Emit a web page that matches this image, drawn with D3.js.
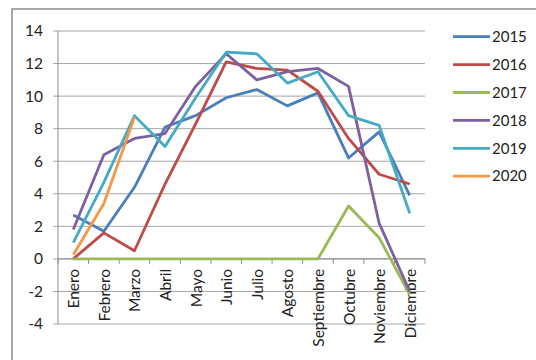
<!DOCTYPE html>
<html>
<head>
<meta charset="utf-8">
<script src="https://cdn.jsdelivr.net/npm/d3@7"></script>
<style>
  body { margin: 0; background: #fff; }
  text { font-family: Lato, "Open Sans", sans-serif; fill: #222; }
</style>
</head>
<body>
<svg id="chart"></svg>
<script>
//////////////// Daten ////////////////////
const meses = ["Enero", "Febrero", "Marzo", "Abril", "Mayo", "Junio", "Julio",
  "Agosto", "Septiembre", "Octubre", "Noviembre", "Diciembre"];

const anios = ["2015", "2016", "2017", "2018", "2019", "2020"];
const colores = ["#4a7ebb", "#be4b48", "#98b954", "#7d60a0", "#46aac5", "#f79646"];

const v2015 = [2.7, 1.7, 4.4, 8.1, 8.8, 9.9, 10.4, 9.4, 10.2, 6.2, 7.8, 3.9];
const v2016 = [0.0, 1.6, 0.5, 4.6, 8.3, 12.1, 11.7, 11.6, 10.3, 7.4, 5.2, 4.6];
const v2017 = [0, 0, 0, 0, 0, 0, 0, 0, 0, 3.25, 1.3, -2.2];
const v2018 = [1.8, 6.4, 7.4, 7.7, 10.6, 12.6, 11.0, 11.5, 11.7, 10.6, 2.2, -2.0];
const v2019 = [1.0, 4.7, 8.8, 6.9, 9.9, 12.7, 12.6, 10.8, 11.5, 8.8, 8.2, 2.8];
const v2020 = [0.25, 3.4, 8.7];

const valores = [v2015, v2016, v2017, v2018, v2019, v2020];
const yTicks = [-4, -2, 0, 2, 4, 6, 8, 10, 12, 14];

//////////////// Konstanten ////////////////////
const W = 536, H = 360;
const plot = {left: 58, right: 425, top: 31, bottom: 324};

const svg = d3.select("#chart").attr("width", W).attr("height", H);

// Rahmen
svg.append("rect")
  .attr("x", 12).attr("y", 9)
  .attr("width", 600).attr("height", 400)
  .attr("fill", "none")
  .attr("stroke", "#8c8c8c")
  .attr("stroke-width", 1.5);

const x = d3.scaleBand().domain(meses).range([plot.left, plot.right]);
const y = d3.scaleLinear().domain([-4, 14]).range([plot.bottom, plot.top]);

// Gitterlinien
svg.append("g")
  .selectAll("line")
  .data(yTicks)
  .enter().append("line")
  .attr("x1", plot.left - 5).attr("x2", plot.right)
  .attr("y1", d => y(d)).attr("y2", d => y(d))
  .attr("stroke", "#a6a6a6")
  .attr("stroke-width", 1);

// Y-Achse
svg.append("line")
  .attr("x1", plot.left).attr("x2", plot.left)
  .attr("y1", y(14)).attr("y2", y(-4))
  .attr("stroke", "#8c8c8c");

svg.append("g")
  .selectAll("text")
  .data(yTicks)
  .enter().append("text")
  .attr("x", plot.left - 15)
  .attr("y", d => y(d))
  .attr("dy", "0.35em")
  .attr("text-anchor", "end")
  .style("font-size", "15.5px")
  .text(d => d);

// X-Achse auf 0
svg.append("line")
  .attr("x1", plot.left).attr("x2", plot.right)
  .attr("y1", y(0)).attr("y2", y(0))
  .attr("stroke", "#8c8c8c");

const grenzen = meses.map(m => x(m)).concat([plot.right]);
svg.append("g")
  .selectAll("line")
  .data(grenzen)
  .enter().append("line")
  .attr("x1", d => d).attr("x2", d => d)
  .attr("y1", y(0)).attr("y2", y(0) + 5)
  .attr("stroke", "#8c8c8c");

svg.append("g")
  .selectAll("text")
  .data(meses)
  .enter().append("text")
  .attr("transform", d => "translate(" + (x(d) + x.bandwidth() / 2 + 6) + "," + (y(0) + 10) + ") rotate(-90)")
  .attr("text-anchor", "end")
  .style("font-size", "15.5px")
  .text(d => d);

// Linien
const linie = d3.line()
  .x((d, i) => x(meses[i]) + x.bandwidth() / 2)
  .y(d => y(d));

svg.append("g")
  .selectAll("path")
  .data(valores)
  .enter().append("path")
  .attr("d", d => linie(d))
  .attr("fill", "none")
  .attr("stroke", (d, i) => colores[i])
  .attr("stroke-width", 2.8)
  .attr("stroke-linejoin", "round");

// Legende
const legende = svg.append("g")
  .selectAll("g")
  .data(anios)
  .enter().append("g")
  .attr("transform", (d, i) => "translate(453," + (36.7 + i * 27.9) + ")");

legende.append("line")
  .attr("x1", 0).attr("x2", 37)
  .attr("stroke", (d, i) => colores[i])
  .attr("stroke-width", 2.8);

legende.append("text")
  .attr("x", 39)
  .attr("dy", "0.35em")
  .style("font-size", "15px")
  .text(d => d);
</script>
</body>
</html>
